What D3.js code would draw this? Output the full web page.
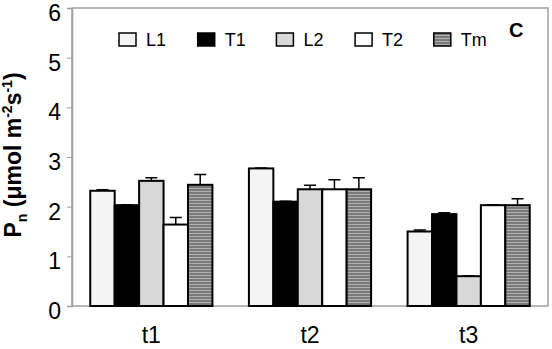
<!DOCTYPE html>
<html>
<head>
<meta charset="utf-8">
<script src="https://cdn.jsdelivr.net/npm/d3@7"></script>
<style>
  body { margin: 0; background: #fff; }
  text { font-family: "Liberation Sans", Arial, sans-serif; }
</style>
</head>
<body>
<script>
const width = 552;
const height = 349;

// data
const times = ["t1", "t2", "t3"];
const treatments = ["L1", "T1", "L2", "T2", "Tm"];
const values = [
  [2.32, 2.03, 2.52, 1.64, 2.44],
  [2.77, 2.10, 2.35, 2.35, 2.35],
  [1.50, 1.85, 0.60, 2.03, 2.03]
];
const errors = [
  [0.02, 0.01, 0.06, 0.14, 0.21],
  [0.01, 0.01, 0.08, 0.19, 0.23],
  [0.03, 0.03, 0.01, 0.01, 0.13]
];
const yTicks = [0, 1, 2, 3, 4, 5, 6];
const fills = ["#f4f4f4", "#000000", "#d8d8d8", "#ffffff", "url(#stripes)"];

const margin = {top: 8, right: 4, bottom: 43, left: 72};

let svg = d3.select("body").append("svg").attr("width", width).attr("height", height);

// horizontal stripes for Tm
let pat = svg.append("defs").append("pattern")
  .attr("id", "stripes").attr("patternUnits", "userSpaceOnUse")
  .attr("width", 6).attr("height", 3);
pat.append("rect").attr("width", 6).attr("height", 3).attr("fill", "#7a7a7a");
pat.append("rect").attr("y", 2).attr("width", 6).attr("height", 1).attr("fill", "#b0b0b0");

let x = d3.scaleBand().domain(times).range([margin.left, width - margin.right]).paddingInner(0.23).paddingOuter(0.115);
let xi = d3.scaleBand().domain(treatments).range([0, x.bandwidth()]);
let y = d3.scaleLinear().domain([0, 6]).range([height - margin.bottom, margin.top]);

// plot frame
svg.append("rect")
  .attr("x", margin.left).attr("y", margin.top)
  .attr("width", width - margin.right - margin.left)
  .attr("height", height - margin.bottom - margin.top)
  .attr("fill", "none").attr("stroke", "#a0a0a0").attr("stroke-width", 1.5);

// y axis
let yAxis = svg.append("g").attr("transform", `translate(${margin.left},0)`)
  .call(d3.axisLeft(y).tickValues(yTicks).tickFormat(d3.format("d")).tickSize(5).tickPadding(6));
yAxis.select(".domain").attr("stroke", "#a0a0a0").attr("stroke-width", 1.5);
yAxis.selectAll(".tick line").attr("stroke", "#a0a0a0");
yAxis.selectAll("text").attr("font-size", 23).attr("fill", "#000").attr("dy", "0.54em")
  .attr("font-family", "Liberation Sans, Arial, sans-serif");

// x labels
svg.append("g").selectAll("text")
  .data(times).enter().append("text")
  .attr("x", d => x(d) + x.bandwidth() / 2)
  .attr("y", 343)
  .attr("text-anchor", "middle")
  .attr("font-size", 23)
  .text(d => d);

// bars
let groups = svg.append("g").selectAll("g")
  .data(times).enter().append("g")
  .attr("transform", d => `translate(${x(d)},0)`);

groups.each(function(t, ti) {
  let g = d3.select(this);
  let rows = treatments.map((k, i) => ({k: k, v: values[ti][i], e: errors[ti][i], f: fills[i]}));
  // error bars
  g.selectAll("path.err").data(rows).enter().append("path")
    .attr("class", "err")
    .attr("d", d => {
      let cx = xi(d.k) + xi.bandwidth() / 2;
      return `M${cx},${y(d.v)}V${y(d.v + d.e)}M${cx - 6},${y(d.v + d.e)}H${cx + 6}`;
    })
    .attr("stroke", "#000").attr("stroke-width", 1.5).attr("fill", "none");
  g.selectAll("rect").data(rows).enter().append("rect")
    .attr("x", d => xi(d.k))
    .attr("y", d => y(d.v))
    .attr("width", xi.bandwidth())
    .attr("height", d => y(0) - y(d.v))
    .attr("fill", d => d.f)
    .attr("stroke", "#000").attr("stroke-width", 2);
});

// legend
let legend = svg.append("g").selectAll("g")
  .data(treatments).enter().append("g")
  .attr("transform", (d, i) => `translate(${119 + i * 78.7},33)`);
legend.append("rect")
  .attr("width", 17).attr("height", 13)
  .attr("fill", (d, i) => fills[i])
  .attr("stroke", "#000").attr("stroke-width", 1.5);
legend.append("text")
  .attr("x", 27).attr("y", 13)
  .attr("font-size", 18)
  .text(d => d);

svg.append("text")
  .attr("x", 509).attr("y", 37)
  .attr("font-size", 20).attr("font-weight", "bold")
  .text("C");

// y label
let yl = svg.append("text")
  .attr("transform", "translate(21,155) rotate(-90)")
  .attr("text-anchor", "middle")
  .attr("font-size", 23).attr("font-weight", "bold");
yl.append("tspan").text("P");
yl.append("tspan").attr("font-size", 14).attr("dy", 6).text("n");
yl.append("tspan").attr("dy", -6).text(" (μmol m");
yl.append("tspan").attr("font-size", 14).attr("dy", -9).text("-2");
yl.append("tspan").attr("dy", 9).text("s");
yl.append("tspan").attr("font-size", 14).attr("dy", -9).text("-1");
yl.append("tspan").attr("dy", 9).text(")");
</script>
</body>
</html>
